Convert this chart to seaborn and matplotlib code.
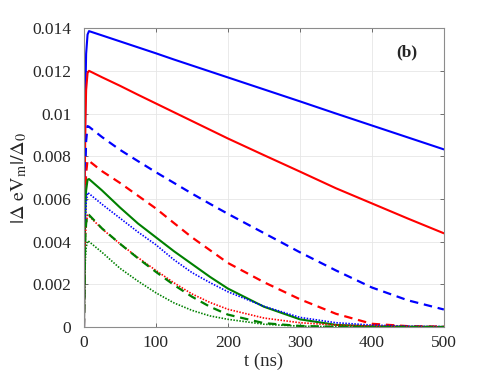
import numpy as np
import pandas as pd
import matplotlib
matplotlib.use('Agg')
import matplotlib.pyplot as plt
import seaborn as sns

# time samples (ns)
t_ns = [0, 1, 2, 3, 5, 7, 25, 50, 75, 100, 125, 150, 175, 200, 250, 300, 350, 400, 450, 500]

# |Delta eV_m| / Delta_0, in units of 1e-3
blue_solid = [0, 7.6, 11.0, 12.8, 13.7, 13.86, 13.66, 13.38, 13.1, 12.82, 12.53, 12.25, 11.97, 11.69,
              11.13, 10.57, 10.0, 9.44, 8.88, 8.32]
red_solid = [0, 6.6, 9.6, 11.1, 11.9, 12.0, 11.7, 11.3, 10.88, 10.47, 10.06, 9.65, 9.24, 8.83,
             8.05, 7.28, 6.5, 5.79, 5.08, 4.39]
blue_dashed = [0, 5.2, 7.5, 8.7, 9.41, 9.38, 8.9, 8.3, 7.77, 7.25, 6.75, 6.25, 5.77, 5.3,
               4.4, 3.5, 2.65, 1.85, 1.25, 0.82]
red_dashed = [0, 4.3, 6.3, 7.2, 7.82, 7.78, 7.3, 6.75, 6.15, 5.55, 4.87, 4.2, 3.6, 3.0,
              2.1, 1.3, 0.62, 0.15, 0.04, 0.02]
green_solid = [0, 3.8, 5.6, 6.4, 6.9, 6.93, 6.4, 5.6, 4.85, 4.2, 3.55, 2.95, 2.35, 1.8,
               0.95, 0.36, 0.1, 0.03, 0.01, 0.0]
blue_dotted = [0, 3.5, 5.0, 5.8, 6.29, 6.25, 5.75, 5.1, 4.45, 3.85, 3.15, 2.55, 2.08, 1.65,
               0.97, 0.45, 0.2, 0.09, 0.04, 0.02]
red_dotted = [0, 2.9, 4.2, 4.8, 5.24, 5.2, 4.6, 3.9, 3.25, 2.65, 2.07, 1.55, 1.15, 0.83,
              0.42, 0.2, 0.09, 0.04, 0.02, 0.01]
green_dashed = [0, 2.9, 4.25, 4.85, 5.27, 5.25, 4.62, 3.9, 3.22, 2.58, 1.97, 1.42, 0.95, 0.58,
                0.18, 0.05, 0.01, 0.0, 0.0, 0.0]
green_dotted = [0, 2.2, 3.2, 3.7, 4.03, 4.0, 3.5, 2.75, 2.15, 1.6, 1.13, 0.78, 0.52, 0.36,
                0.13, 0.04, 0.01, 0.0, 0.0, 0.0]

y_ticks = [0, 0.002, 0.004, 0.006, 0.008, 0.01, 0.012, 0.014]
y_tick_labels = ['0', '0.002', '0.004', '0.006', '0.008', '0.01', '0.012', '0.014']
x_ticks = [0, 100, 200, 300, 400, 500]

sns.set_style('whitegrid')
plt.rcParams['font.family'] = ['Liberation Serif', 'DejaVu Serif']
plt.rcParams['mathtext.fontset'] = 'stix'

BLUE = (0, 0, 1)
RED = (1, 0, 0)
GREEN = (0, 0.5, 0)

series = [
    (blue_solid, BLUE, 'solid'),
    (red_solid, RED, 'solid'),
    (blue_dashed, BLUE, 'dashed'),
    (red_dashed, RED, 'dashed'),
    (green_solid, GREEN, 'solid'),
    (blue_dotted, BLUE, 'dotted'),
    (red_dotted, RED, 'dotted'),
    (green_dashed, GREEN, 'dashed'),
    (green_dotted, GREEN, 'dotted'),
]

fig = plt.figure(figsize=(4.91, 3.75), dpi=100)
ax = fig.add_axes([0.171, 0.128, 0.733, 0.797])

for vals, color, style in series:
    y = np.array(vals) * 1e-3
    if style == 'solid':
        sns.lineplot(x=t_ns, y=y, ax=ax, color=color, lw=1.5)
    elif style == 'dashed':
        sns.lineplot(x=t_ns, y=y, ax=ax, color=color, lw=1.6, dashes=False,
                     linestyle=(0, (3.8, 2.6)))
    else:
        sns.lineplot(x=t_ns, y=y, ax=ax, color=color, lw=1.2, dashes=False,
                     linestyle=(0, (0.9, 0.9)))

ax.set_xlim(0, 500)
ax.set_ylim(0, 0.014)
ax.set_xticks(x_ticks)
ax.set_yticks(y_ticks)
ax.set_yticklabels(y_tick_labels)
ax.tick_params(axis='both', direction='in', length=3, width=0.6, color='0.35',
               labelsize=12.5, top=True, right=True, bottom=True, left=True)
ax.tick_params(axis='y', pad=9)
ax.tick_params(axis='x', pad=6)
ax.grid(True, color='0.9', lw=0.6)
for sp in ax.spines.values():
    sp.set_color('0.55')
    sp.set_linewidth(0.8)

ax.set_xlabel('t (ns)', fontsize=13.5, labelpad=1)
ax.set_ylabel(r'$|\Delta\ \mathrm{eV}_{\mathrm{m}}|/\Delta_0$', fontsize=14.5, labelpad=2)
ax.text(0.897, 0.92, '(b)', transform=ax.transAxes, fontsize=12.5, fontweight='bold',
        ha='center', va='center')

fig.savefig('out.png', dpi=100)
